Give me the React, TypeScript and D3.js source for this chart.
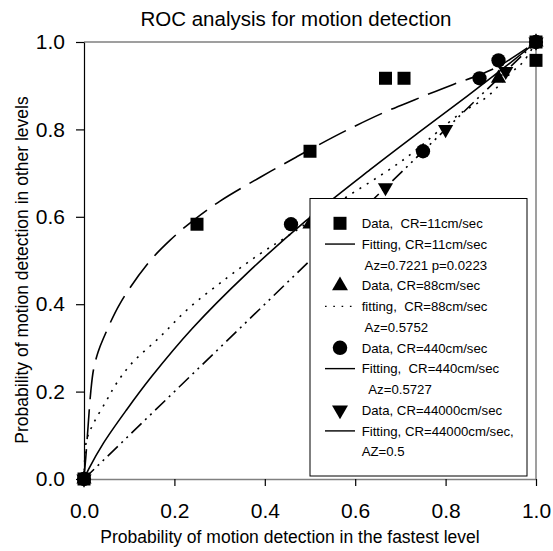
import React, { useEffect, useRef } from 'react';
import * as d3 from 'd3';

// marker data
const sqX = [0, 0.25, 0.5, 0.667, 0.708, 1, 1];
const sqY = [0, 0.583, 0.75, 0.917, 0.917, 1, 0.958];
const triUpX = [0, 0.5, 0.917, 1];
const triUpY = [0, 0.583, 0.917, 1];
const circX = [0, 0.458, 0.75, 0.875, 0.917, 1];
const circY = [0, 0.583, 0.75, 0.917, 0.958, 1];
const triDnX = [0, 0.667, 0.8, 0.933, 1];
const triDnY = [0, 0.667, 0.8, 0.933, 1];

// fitted curves, sampled by eye
const fit11X = [0, 0.0015, 0.004, 0.009, 0.015, 0.021, 0.031, 0.043, 0.08, 0.142, 0.19, 0.242, 0.301, 0.389, 0.47, 0.5, 0.581, 0.662, 0.732, 0.817, 0.876, 0.92, 1];
const fit11Y = [0, 0.02, 0.05, 0.12, 0.2, 0.25, 0.29, 0.322, 0.402, 0.494, 0.546, 0.592, 0.636, 0.69, 0.737, 0.754, 0.798, 0.838, 0.868, 0.903, 0.925, 0.946, 1];
const fit88X = [0, 0.001, 0.006, 0.021, 0.05, 0.072, 0.105, 0.168, 0.231, 0.316, 0.389, 0.448, 0.55, 0.706, 0.832, 0.891, 0.942, 0.972, 1];
const fit88Y = [0, 0.03, 0.09, 0.127, 0.18, 0.219, 0.264, 0.325, 0.39, 0.46, 0.515, 0.554, 0.625, 0.73, 0.836, 0.874, 0.927, 0.955, 1];
const fit440X = [0, 0.01, 0.043, 0.094, 0.15, 0.24, 0.36, 0.49, 0.633, 0.743, 0.85, 0.95, 1];
const fit440Y = [0, 0.022, 0.082, 0.158, 0.235, 0.345, 0.47, 0.59, 0.708, 0.795, 0.878, 0.958, 1];
const fit44000X = [0, 1];
const fit44000Y = [0, 1];

const xTicks = [0, 0.2, 0.4, 0.6, 0.8, 1.0];
const yTicks = [0, 0.2, 0.4, 0.6, 0.8, 1.0];

const legendLabels = [
  'Data,  CR=11cm/sec',
  'Fitting, CR=11cm/sec',
  ' Az=0.7221 p=0.0223',
  'Data, CR=88cm/sec',
  'fitting,  CR=88cm/sec',
  ' Az=0.5752',
  'Data, CR=440cm/sec',
  'Fitting,  CR=440cm/sec',
  '  Az=0.5727',
  'Data, CR=44000cm/sec',
  'Fitting, CR=44000cm/sec,',
  'AZ=0.5',
];
// symbol shown in front of each legend row
const legendKeys = ['square', 'line', '', 'triUp', 'dots', '', 'circle', 'line', '', 'triDn', 'line', ''];

const FONT = 'Arial, "Liberation Sans", sans-serif';

export default function App() {
  const ref = useRef<SVGSVGElement>(null);

  useEffect(() => {
    const svg = d3.select(ref.current);
    svg.selectAll('*').remove();

    const x = d3.scaleLinear().domain([0, 1]).range([84, 536]);
    const y = d3.scaleLinear().domain([0, 1]).range([479, 42]);

    // frame (top and right)
    svg.append('path')
      .attr('d', `M${x(0)},${y(1)}H${x(1)}V${y(0)}`)
      .attr('fill', 'none')
      .attr('stroke', '#808080')
      .attr('stroke-width', 1.5);

    const xAxis = svg.append('g')
      .attr('transform', `translate(0,${y(0)})`)
      .call(d3.axisBottom(x).tickValues(xTicks).tickFormat(d3.format('.1f')).tickSize(7).tickSizeOuter(0).tickPadding(17));
    xAxis.select('.domain').attr('stroke', '#808080').attr('stroke-width', 1.5);

    const yAxis = svg.append('g')
      .attr('transform', `translate(${x(0)},0)`)
      .call(d3.axisLeft(y).tickValues(yTicks).tickFormat(d3.format('.1f')).tickSize(8).tickSizeOuter(0).tickPadding(11));
    yAxis.select('.domain').attr('stroke', '#000').attr('stroke-width', 1.2);

    svg.selectAll('.tick text')
      .attr('font-family', FONT)
      .attr('font-size', 21)
      .attr('fill', '#000');
    svg.selectAll('.tick line').attr('stroke', '#000').attr('stroke-width', 1.2);

    const line = d3.line<[number, number]>()
      .x((d) => x(d[0]))
      .y((d) => y(d[1]))
      .curve(d3.curveCatmullRom.alpha(0.5));

    const curves = [
      { xs: fit11X, ys: fit11Y, dash: '30,10', w: 1.6 },
      { xs: fit88X, ys: fit88Y, dash: '2,6.5', w: 1.6 },
      { xs: fit440X, ys: fit440Y, dash: null, w: 1.6 },
      { xs: fit44000X, ys: fit44000Y, dash: '14,5,2,5,2,5', w: 1.6 },
    ];
    curves.forEach((c) => {
      svg.append('path')
        .datum(c.xs.map((v, i) => [v, c.ys[i]] as [number, number]))
        .attr('d', line)
        .attr('fill', 'none')
        .attr('stroke', '#000')
        .attr('stroke-width', c.w)
        .attr('stroke-dasharray', c.dash);
    });

    const symbols: Record<string, d3.SymbolType> = {
      square: d3.symbolSquare,
      circle: d3.symbolCircle,
      triUp: d3.symbolTriangle,
      triDn: d3.symbolTriangle,
    };
    const sizes: Record<string, number> = { square: 169, circle: 160, triUp: 100, triDn: 100 };
    const sym = (k: string) => d3.symbol().type(symbols[k]).size(sizes[k])();

    const markerSets = [
      { k: 'square', xs: sqX, ys: sqY },
      { k: 'triUp', xs: triUpX, ys: triUpY },
      { k: 'circle', xs: circX, ys: circY },
      { k: 'triDn', xs: triDnX, ys: triDnY },
    ];
    markerSets.forEach((m) => {
      svg.append('g')
        .selectAll('path')
        .data(m.xs.map((v, i) => [v, m.ys[i]]))
        .enter().append('path')
          .attr('d', sym(m.k))
          .attr('fill', '#000')
          .attr('transform', (d) => `translate(${x(d[0])},${y(d[1])})` + (m.k === 'triDn' ? ' rotate(180)' : ''));
    });

    // legend
    const lg = svg.append('g');
    lg.append('rect')
      .attr('x', 310).attr('y', 198.5)
      .attr('width', 217).attr('height', 277.5)
      .attr('fill', '#fff')
      .attr('stroke', '#000')
      .attr('stroke-width', 1);

    legendLabels.forEach((lab, i) => {
      const cy = 223.3 + i * 20.76;
      const k = legendKeys[i];
      if (k === 'line' || k === 'dots') {
        lg.append('line')
          .attr('x1', 325).attr('x2', 355)
          .attr('y1', cy).attr('y2', cy)
          .attr('stroke', '#000')
          .attr('stroke-width', 1.4)
          .attr('stroke-dasharray', k === 'dots' ? '1.6,6.7' : null);
      } else if (k) {
        lg.append('path')
          .attr('d', d3.symbol().type(symbols[k]).size(k === 'square' ? 169 : k === 'circle' ? 165 : 110)())
          .attr('transform', `translate(340,${cy})` + (k === 'triDn' ? ' rotate(180)' : ''))
          .attr('fill', '#000');
      }
      lg.append('text')
        .attr('x', 361.7)
        .attr('y', cy + 4.7)
        .attr('font-family', FONT)
        .attr('font-size', 13.2)
        .attr('xml:space', 'preserve')
        .style('white-space', 'pre')
        .text(lab);
    });

    svg.append('text')
      .attr('x', 296).attr('y', 26)
      .attr('text-anchor', 'middle')
      .attr('font-family', FONT)
      .attr('font-size', 20.5)
      .text('ROC analysis for motion detection');

    svg.append('text')
      .attr('x', 290).attr('y', 543)
      .attr('text-anchor', 'middle')
      .attr('font-family', FONT)
      .attr('font-size', 17.5)
      .text('Probability of motion detection in the fastest level');

    svg.append('text')
      .attr('transform', `translate(28,270) rotate(-90)`)
      .attr('text-anchor', 'middle')
      .attr('font-family', FONT)
      .attr('font-size', 17.5)
      .text('Probability of motion detection in other levels');
  }, []);

  return (
    <svg ref={ref} width={553} height={551}
      style={{ position: 'absolute', left: 0, top: 0, background: '#fff' }} />
  );
}
